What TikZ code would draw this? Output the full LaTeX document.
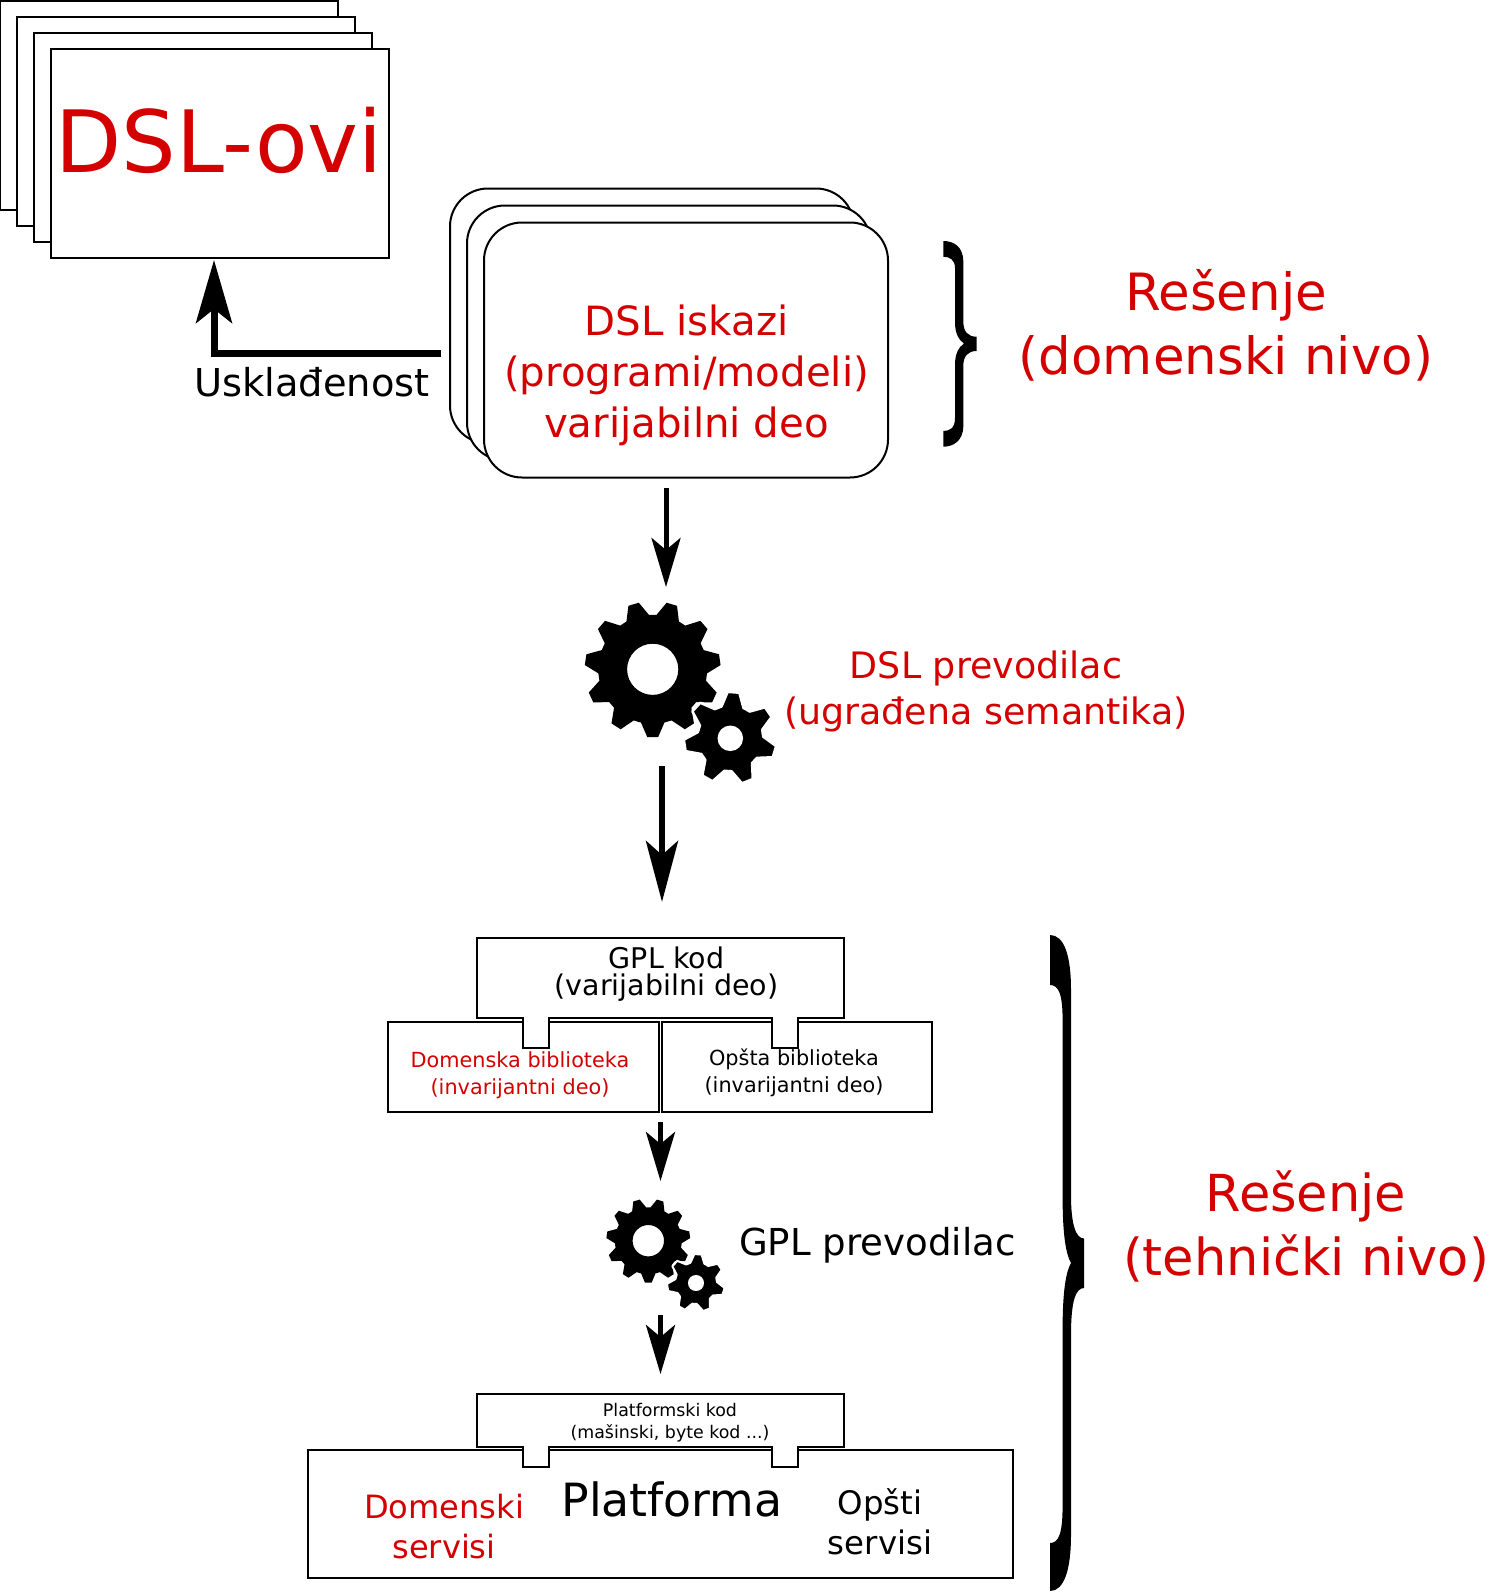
\documentclass[tikz,border=0pt]{standalone}
\usepackage{fontspec}
\setmainfont{DejaVu Sans}
\usepackage{xcolor}
\usetikzlibrary{arrows.meta}
\definecolor{dslred}{HTML}{D40000}
\newcommand{\fsz}[2]{\fontsize{#1}{#2}\selectfont}
% center, outer radius, root radius, hole radius, teeth, angle of first tooth
\newcommand{\gearshape}[7][]{%
\pgfmathsetmacro\gearstep{360/#6}
\pgfmathtruncatemacro\gearlast{#6-1}
\fill[black,even odd rule,shift={(#2)},line join=round,#1] (#7-0.5*\gearstep:#4 pt)
 \foreach \k [evaluate=\k as \a using #7+\k*\gearstep] in {0,...,\gearlast} {
 -- (\a-0.38*\gearstep:#4 pt) -- (\a-0.14*\gearstep:#3 pt) -- (\a+0.14*\gearstep:#3 pt) -- (\a+0.38*\gearstep:#4 pt)
 } -- cycle (0,0) circle[radius=#5 pt];
}
\tikzset{
 lbl/.style={inner sep=0pt,align=center},
 redlbl/.style={lbl,text=dslred},
 dslbox/.style={draw,fill=white,line width=2pt,minimum width=338pt,minimum height=209pt,inner sep=0pt},
 stmtbox/.style={draw,fill=white,line width=2pt,rounded corners=38pt,minimum width=404pt,minimum height=255pt,inner sep=0pt},
 libbox/.style={draw,fill=white,line width=2pt,minimum height=90pt,inner sep=0pt},
 codebox/.style={draw,fill=white,line width=2pt,line join=miter},
 bigarr/.style={line width=7pt,-{Stealth[length=63pt,width=36pt,inset=14pt]}},
 midarr/.style={line width=6.5pt,-{Stealth[length=61pt,width=32pt,inset=14pt]}},
 smallarr/.style={line width=5pt,-{Stealth[length=49pt,width=29pt,inset=12pt]}}
}
\begin{document}
\begin{tikzpicture}[x=1pt,y=-1pt]
\useasboundingbox (0,0) rectangle (1488,1591);
% language definitions
\node[dslbox] (dslA) at (169,105.5) {};
\node[dslbox] (dslB) at (186,121.5) {};
\node[dslbox] (dslC) at (203,137.5) {};
\node[dslbox] (dslD) at (220,153.5) {};
\node[redlbl,font=\fsz{86}{90}] (dslt) at (219,140) {DSL-ovi};
% statements
\node[stmtbox] (stmtA) at (652,316) {};
\node[stmtbox] (stmtB) at (669,333) {};
\node[stmtbox] (stmtC) at (686,350) {};
\node[redlbl,font=\fsz{40.3}{51}] (stmtt) at (686.5,375.5) {DSL iskazi\\(programi/modeli)\\varijabilni deo};
\node[lbl,font=\fsz{38.4}{44},anchor=base] (conf) at (312,396.5) {Usklađenost};
\coordinate (confA) at (440.5,353);
\coordinate (confB) at (214,260);
\draw[bigarr] (confA) -| (confB);
% upper brace
\fill (943.3,241) .. controls (953,241) and (963.3,246) .. (963.3,261.7) -- (963.3,321)
 .. controls (963.3,332) and (968,336.7) .. (976.7,336.7) -- (976.7,351)
 .. controls (968,351) and (963.3,356) .. (963.3,366) -- (963.3,426)
 .. controls (963.3,441) and (953,446.7) .. (943.3,446.7) -- (943.3,431)
 .. controls (950,431) and (955,428) .. (955,418) -- (955,365)
 .. controls (955,353) and (959,347) .. (964,343.5)
 .. controls (959,340) and (955,334) .. (955,322) -- (955,268)
 .. controls (955,260) and (950,256.7) .. (943.3,256.7) -- cycle;
\node[redlbl,font=\fsz{51.4}{64}] (solA) at (1226,325.5) {Rešenje\\(domenski nivo)};
% first compiler
\coordinate (arrAs) at (666,488);
\coordinate (arrAe) at (666,587);
\draw[smallarr] (arrAs) -- (arrAe);
\gearshape{652.7,669.3}{68}{54.5}{25.6}{11}{-90}
\gearshape[draw=white,line width=2.5pt]{730.3,738.3}{46.5}{33}{11.5}{7}{86}
\node[redlbl,font=\fsz{36.4}{46}] (comA) at (986,691) {DSL prevodilac\\(ugrađena semantika)};
\coordinate (arrBs) at (662,766);
\coordinate (arrBe) at (662,902);
\draw[midarr] (arrBs) -- (arrBe);
% libraries and code
\node[libbox,minimum width=271pt] (libA) at (523.5,1067) {};
\node[libbox,minimum width=270pt] (libB) at (797,1067) {};
\draw[codebox] (477,938) -- (843.5,938) -- (843.5,1018) -- (798,1018) -- (798,1047.5) -- (771.5,1047.5) -- (771.5,1018)
 -- (549,1018) -- (549,1047.5) -- (523,1047.5) -- (523,1018) -- (477,1018) -- cycle;
\node[lbl,font=\fsz{28.5}{26.5}] (gpl) at (666.5,974) {GPL kod\\(varijabilni deo)};
\node[redlbl,font=\fsz{20.8}{26.5}] (libAt) at (520,1075) {Domenska biblioteka\\(invarijantni deo)};
\node[lbl,font=\fsz{20.8}{26.5}] (libBt) at (794,1073) {Opšta biblioteka\\(invarijantni deo)};
\coordinate (arrCs) at (660.5,1122);
\coordinate (arrCe) at (660.5,1181);
\draw[smallarr] (arrCs) -- (arrCe);
% second compiler
\gearshape{648.3,1240.7}{42}{33.5}{15.7}{11}{-90}
\gearshape[draw=white,line width=2pt]{696,1283}{29}{21}{7}{7}{86}
\node[lbl,font=\fsz{37.1}{44},anchor=base west] (comB) at (739,1255) {GPL prevodilac};
\coordinate (arrDs) at (660.5,1315);
\coordinate (arrDe) at (660.5,1374);
\draw[smallarr] (arrDs) -- (arrDe);
% platform
\node[draw,fill=white,line width=2pt,minimum width=705.5pt,minimum height=128pt,inner sep=0pt] (plat) at (660.25,1513.5) {};
\draw[codebox] (477,1393.5) -- (843.5,1393.5) -- (843.5,1447) -- (798,1447) -- (798,1466.5) -- (771.5,1466.5) -- (771.5,1447)
 -- (549,1447) -- (549,1466.5) -- (523,1466.5) -- (523,1447) -- (477,1447) -- cycle;
\node[lbl,font=\fsz{17.4}{22}] (platc) at (670,1422.5) {Platformski kod\\(mašinski, byte kod ...)};
\node[lbl,font=\fsz{45.8}{50},anchor=base] (platt) at (672,1516) {Platforma};
\node[redlbl,font=\fsz{32.1}{40}] (platA) at (444,1527) {Domenski\\servisi};
\node[lbl,font=\fsz{32.4}{40}] (platB) at (880,1521.5) {Opšti\\servisi};
% lower brace
\fill (1050,935) .. controls (1064,935) and (1071,955) .. (1071,990) -- (1071,1195)
 .. controls (1071,1225) and (1076,1238.5) .. (1084,1238.5) -- (1084,1288)
 .. controls (1076,1288) and (1071,1300) .. (1071,1335) -- (1071,1535)
 .. controls (1071,1570) and (1064,1591) .. (1050,1591) -- (1050,1543)
 .. controls (1059,1543) and (1062.6,1533) .. (1062.6,1505) -- (1062.6,1330)
 .. controls (1062.6,1290) and (1066,1272) .. (1071,1263)
 .. controls (1066,1254) and (1062.6,1236) .. (1062.6,1196) -- (1062.6,1020)
 .. controls (1062.6,995) and (1059,985) .. (1050,985) -- cycle;
\node[redlbl,font=\fsz{51}{64}] (solB) at (1306,1226.5) {Rešenje\\(tehnički nivo)};
\end{tikzpicture}
\end{document}
